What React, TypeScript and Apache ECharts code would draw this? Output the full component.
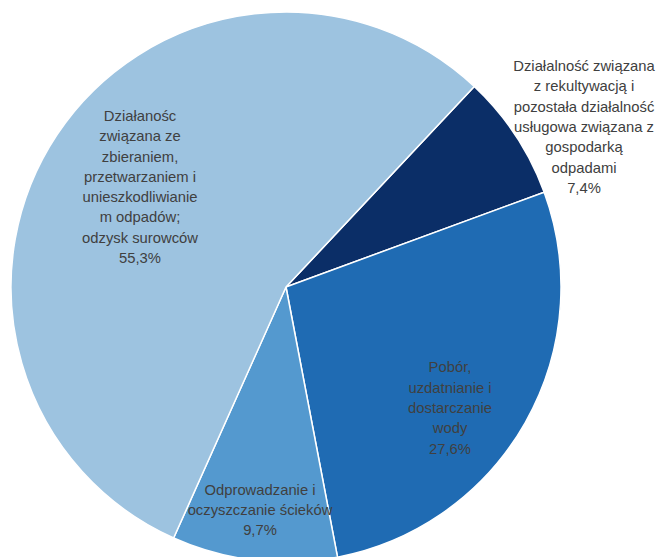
import React, { useEffect, useRef } from "react";
import * as echarts from "echarts";

const categories = [
  "Działalność związana\nz rekultywacją i\npozostała działalność\nusługowa związana z\ngospodarką\nodpadami",
  "Pobór,\nuzdatnianie i\ndostarczanie\nwody",
  "Odprowadzanie i\noczyszczanie ścieków",
  "Działanośc\nzwiązana ze\nzbieraniem,\nprzetwarzaniem i\nunieszkodliwianie\nm odpadów;\nodzysk surowców",
];
const values = [7.4, 27.6, 9.7, 55.3];
const colors = ["#0B2E67", "#1F6BB3", "#5499CF", "#9DC3E0"];
const labelCenters = [
  [584, 127],
  [450, 408],
  [260, 510],
  [140, 187],
];

export default function App() {
  const ref = useRef<HTMLDivElement>(null);
  useEffect(() => {
    const chart = echarts.init(ref.current!, undefined, { renderer: "svg" });
    chart.setOption({
      animation: false,
      backgroundColor: "#ffffff",
      series: [
        {
          type: "pie",
          center: [286, 287],
          radius: 275,
          startAngle: 46.8,
          clockwise: true,
          avoidLabelOverlap: false,
          itemStyle: { borderColor: "#ffffff", borderWidth: 1.5 },
          label: {
            show: true,
            position: "inside",
            formatter: (p: any) => `${p.name}\n${String(p.value).replace(".", ",")}%`,
            color: "#404040",
            fontFamily: "'Liberation Sans', sans-serif",
            fontSize: 14.8,
            lineHeight: 20.3,
            align: "center",
          },
          labelLine: { show: false },
          labelLayout: (params: any) => {
            const c = labelCenters[params.dataIndex];
            return { x: c[0], y: c[1], align: "center", verticalAlign: "middle" };
          },
          data: values.map((v, i) => ({
            name: categories[i],
            value: v,
            itemStyle: { color: colors[i] },
          })),
        },
      ],
    });
    return () => chart.dispose();
  }, []);
  return (
    <div
      ref={ref}
      style={{ position: "absolute", left: 0, top: 0, width: 659, height: 557 }}
    />
  );
}
